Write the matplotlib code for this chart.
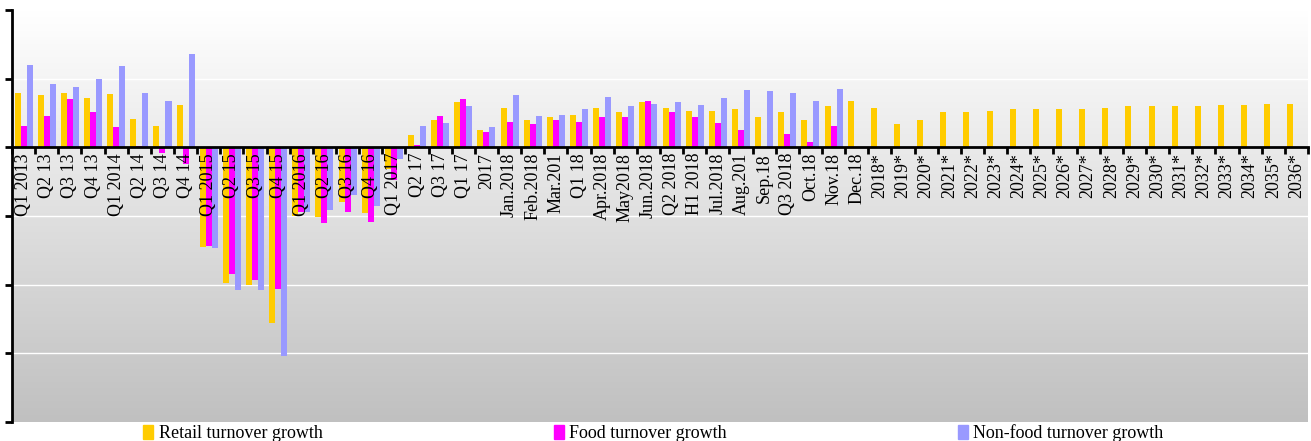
import numpy as np
import matplotlib
matplotlib.use('Agg')
import matplotlib.pyplot as plt
from matplotlib.patches import Patch

plt.rcParams['font.family'] = ['Liberation Serif', 'DejaVu Serif']

labels = ['Q1 2013', 'Q2 13', 'Q3 13', 'Q4 13', 'Q1 2014', 'Q2 14', 'Q3 14', 'Q4 14',
          'Q1 2015', 'Q2 15', 'Q3 15', 'Q4 15', 'Q1 2016', 'Q2 16', 'Q3 16', 'Q4 16',
          'Q1 2017', 'Q2 17', 'Q3 17', 'Q1 17', '2017', 'Jan.2018', 'Feb.2018', 'Mar.201',
          'Q1 18', 'Apr.2018', 'May2018', 'Jun.2018', 'Q2 2018', 'H1 2018', 'Jul.2018',
          'Aug.201', 'Sep.18', 'Q3 2018', 'Oct.18', 'Nov.18', 'Dec.18',
          '2018*', '2019*', '2020*', '2021*', '2022*', '2023*', '2024*', '2025*', '2026*',
          '2027*', '2028*', '2029*', '2030*', '2031*', '2032*', '2033*', '2034*', '2035*', '2036*']

nan = np.nan
retail = [3.97, 3.8, 3.97, 3.58, 3.87, 2.07, 1.53, 3.07,
          -7.23, -9.85, -10.05, -12.82, -5.0, -5.04, -4.0, -4.8,
          -1.6, 0.88, 1.97, 3.28, 1.24, 2.85, 1.97, 2.19,
          2.34, 2.85, 2.55, 3.28, 2.85, 2.63, 2.63,
          2.77, 2.19, 2.55, 1.97, 2.99, 3.36,
          2.85, 1.68, 1.97, 2.55, 2.55, 2.63, 2.77, 2.77, 2.77,
          2.77, 2.85, 2.99, 2.99, 2.99, 2.99, 3.07, 3.07, 3.14, 3.14]
food = [1.53, 2.26, 3.53, 2.55, 1.46, 0.07, -0.44, -1.22,
        -7.15, -9.25, -9.68, -10.3, -4.7, -5.52, -4.72, -5.4,
        -2.4, 0.19, 2.26, 3.5, 1.09, 1.82, 1.68, 1.97,
        1.82, 2.19, 2.19, 3.36, 2.55, 2.19, 1.75,
        1.24, nan, 0.95, 0.36, 1.53, nan] + [nan] * 19
nonfood = [6.03, 4.62, 4.38, 4.96, 5.91, 3.97, 3.36, 6.81,
           -7.3, -10.4, -10.4, -15.16, -4.7, -4.53, -3.45, -4.23,
           -0.85, 1.53, 1.75, 2.99, 1.46, 3.8, 2.26, 2.34,
           2.77, 3.65, 2.99, 3.14, 3.28, 3.07, 3.58,
           4.16, 4.09, 3.94, 3.36, 4.23, nan] + [nan] * 19

series = [('Retail turnover growth', retail, '#FFCC00'),
          ('Food turnover growth', food, '#FF00FF'),
          ('Non-food turnover growth', nonfood, '#9999FF')]

fig = plt.figure(figsize=(13.11, 4.41), dpi=100)
ax = fig.add_axes([0.0092, 0.043, 0.9885, 0.934])

x = np.arange(len(labels))
ymin, ymax = -20, 10
ax.set_xlim(-0.5, len(labels) - 0.5)
ax.set_ylim(ymin, ymax)

# grey gradient behind the plot
grad = np.linspace(0, 1, 256).reshape(-1, 1)
ax.imshow(grad, extent=[-0.5, len(labels) - 0.5, ymin, ymax], aspect='auto',
          cmap=matplotlib.colors.LinearSegmentedColormap.from_list('bg', ['#c0c0c0', '#ffffff']),
          origin='lower', zorder=0)

w = 0.26
for i, (name, vals, col) in enumerate(series):
    ax.bar(x + (i - 1) * w, vals, width=w, color=col, zorder=2, label=name)

ax.set_yticks(np.arange(ymin, ymax + 1, 5))
ax.set_yticklabels([])
for yy in np.arange(ymin + 5, ymax + 1, 5):
    ax.axhline(yy, color='white', lw=1, zorder=1)

# category names sit on top of the bars
ax.set_axisbelow(False)
ax.spines['bottom'].set_position(('data', 0))
ax.spines['bottom'].set_linewidth(2)
ax.spines['left'].set_linewidth(2)
ax.spines['top'].set_visible(False)
ax.spines['right'].set_visible(False)

ax.set_xticks(x)
ax.set_xticklabels(labels, rotation=90, fontsize=13, va='top')
ax.tick_params(axis='x', which='major', length=0, pad=4)
ax.set_xticks(np.arange(-0.5, len(labels), 1), minor=True)
ax.tick_params(axis='x', which='minor', length=5, width=2, direction='out')
ax.tick_params(axis='y', length=5, width=2, direction='out')

handles = [Patch(color=c, label=n) for n, _, c in series]
fig.legend(handles=handles, loc='lower left', bbox_to_anchor=(0.097, -0.04), ncol=3,
           frameon=False, fontsize=13, handlelength=0.55, handleheight=0.8,
           handletextpad=0.3, columnspacing=12.8)

fig.savefig('out.png', dpi=100)
